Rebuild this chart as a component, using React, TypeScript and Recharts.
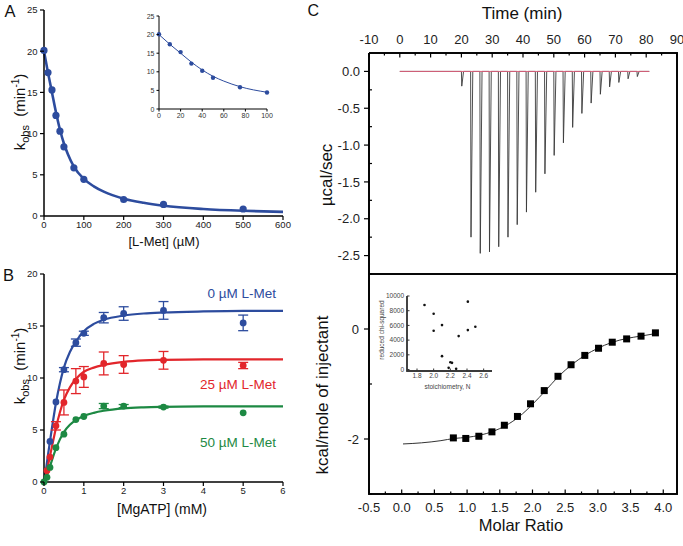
import React from 'react';
import { ComposedChart, Line, Scatter, XAxis, YAxis, ErrorBar } from 'recharts';

const FONT = "'Liberation Sans', Arial, Helvetica, sans-serif";
const BLUE = '#2D4C9E';
const RED = '#E2262B';
const GREEN = '#1D8943';

// ---------- Panel A : kobs vs [L-Met] ----------
const lmetConc = [0, 10, 20, 30, 40, 50, 75, 100, 200, 300, 500];
const kobsLmet = [20.1, 17.4, 15.3, 12.2, 10.3, 8.4, 5.85, 4.45, 2.0, 1.4, 0.85];
const fitLmetX = [0, 10, 20, 30, 40, 50, 60, 75, 100, 125, 150, 200, 250, 300, 400, 500, 600];
const fitLmetY = [20.0, 17.4, 15.0, 12.6, 10.5, 8.8, 7.5, 6.0, 4.5, 3.6, 2.95, 2.1, 1.6, 1.25, 0.85, 0.63, 0.5];
const lmetTicks = [0, 100, 200, 300, 400, 500, 600];
const kobsTicksA = [0, 5, 10, 15, 20, 25];
const insetLmetTicks = [0, 20, 40, 60, 80, 100];

// ---------- Panel B : kobs vs [MgATP] ----------
const atpBlue = [0.15, 0.3, 0.5, 0.8, 1, 1.5, 2, 3, 5];
const kobsBlue = [3.9, 7.7, 10.8, 13.4, 14.3, 15.8, 16.2, 16.5, 15.3];
const errBlue = [0, 0, 0.2, 0.35, 0.2, 0.5, 0.65, 0.85, 0.75];
const atpRed = [0.075, 0.15, 0.3, 0.5, 0.8, 1, 1.5, 2, 3, 5];
const kobsRed = [1.1, 2.4, 5.4, 7.65, 9.7, 10.1, 11.4, 11.3, 11.7, 11.2];
const errRed = [0, 0, 0.4, 1.2, 1.2, 1.0, 1.1, 0.85, 0.85, 0.3];
const atpGreen = [0, 0.075, 0.15, 0.3, 0.5, 0.8, 1, 1.5, 2, 3, 5];
const kobsGreen = [0, 0.45, 1.4, 3.3, 4.6, 6.0, 6.3, 7.3, 7.3, 7.2, 6.65];
const errGreen = [0, 0, 0, 0, 0, 0, 0, 0.25, 0.15, 0.1, 0];
const fitAtpX = [0, 0.05, 0.1, 0.15, 0.2, 0.3, 0.4, 0.5, 0.65, 0.8, 1, 1.25, 1.5, 2, 2.5, 3, 4, 5, 6];
const fitBlueY = [0, 1.2, 2.6, 3.9, 5.2, 7.6, 9.5, 11.0, 12.5, 13.5, 14.5, 15.2, 15.6, 16.0, 16.2, 16.3, 16.4, 16.45, 16.45];
const fitRedY = [0, 0.7, 1.6, 2.5, 3.4, 5.2, 6.7, 7.9, 9.1, 9.9, 10.6, 11.0, 11.25, 11.55, 11.7, 11.75, 11.8, 11.8, 11.8];
const fitGreenY = [0, 0.4, 0.9, 1.5, 2.1, 3.2, 4.1, 4.8, 5.5, 5.95, 6.35, 6.65, 6.85, 7.08, 7.18, 7.23, 7.27, 7.28, 7.28];
const atpTicks = [0, 1, 2, 3, 4, 5, 6];
const kobsTicksB = [0, 5, 10, 15, 20];

// ---------- Panel C (top) : ITC raw heats ----------
const injTimes = [20, 23, 26, 29, 32, 35, 38, 41, 44, 47, 50, 53, 56, 59, 62, 65, 68, 71, 74, 77];
const injPeaks = [-0.2, -2.25, -2.47, -2.45, -2.38, -2.25, -2.08, -1.91, -1.64, -1.39, -1.14, -0.97, -0.76, -0.57, -0.43, -0.31, -0.21, -0.15, -0.1, -0.07];
const runStart = 0;
const runEnd = 81;
const timeDomain: [number, number] = [-10, 90];
const powerDomain: [number, number] = [-2.75, 0.25];
const timeTicks = [-10, -5, 0, 5, 10, 15, 20, 25, 30, 35, 40, 45, 50, 55, 60, 65, 70, 75, 80, 85, 90];
const powerTicks = [0, -0.25, -0.5, -0.75, -1, -1.25, -1.5, -1.75, -2, -2.25, -2.5];

// ---------- Panel C (bottom) : integrated heats ----------
const molarRatio = [0.79, 0.98, 1.18, 1.38, 1.57, 1.77, 1.97, 2.18, 2.39, 2.59, 2.8, 3.01, 3.22, 3.44, 3.66, 3.88];
const heatPerMol = [-1.98, -1.99, -1.95, -1.87, -1.75, -1.59, -1.36, -1.12, -0.86, -0.65, -0.48, -0.35, -0.24, -0.18, -0.13, -0.07];
const fitRatioX = [0.02, 0.3, 0.6, 0.8, 1.0, 1.2, 1.4, 1.6, 1.8, 2.0, 2.2, 2.4, 2.6, 2.8, 3.0, 3.2, 3.45, 3.65, 3.9];
const fitHeatY = [-2.09, -2.07, -2.03, -1.99, -1.97, -1.93, -1.86, -1.75, -1.59, -1.37, -1.12, -0.86, -0.65, -0.48, -0.35, -0.25, -0.17, -0.13, -0.08];
const ratioDomain: [number, number] = [-0.5, 4.21];
const heatDomain: [number, number] = [-3, 1];
const ratioTicks = [-0.5, -0.25, 0, 0.25, 0.5, 0.75, 1, 1.25, 1.5, 1.75, 2, 2.25, 2.5, 2.75, 3, 3.25, 3.5, 3.75, 4];
const heatTicks = [1, 0, -1, -2, -3];

// ---------- Inset C : chi-squared vs N ----------
const stoichN = [1.89, 2.0, 2.0, 2.1, 2.1, 2.18, 2.2, 2.22, 2.27, 2.3, 2.41, 2.41, 2.5];
const chiSq = [8770, 7590, 5270, 6045, 1820, 230, 1000, 910, 90, 4545, 9230, 5360, 5820];
const stoichDomain: [number, number] = [1.68, 2.7];
const chiDomain: [number, number] = [-200, 10000];
const stoichTicks = [1.8, 2.0, 2.2, 2.4, 2.6];
const chiTicks = [0, 2000, 4000, 6000, 8000, 10000];

// ---------- helpers ----------
const zip = (xs: number[], ys: number[], es?: number[]) =>
  xs.map((x, i) => ({ x, y: ys[i], err: es ? es[i] : 0 }));

const ptsA = zip(lmetConc, kobsLmet);
const fitA = zip(fitLmetX, fitLmetY);
const ptsInsetA = ptsA.filter((d) => d.x <= 100);
const fitInsetA = fitA.filter((d) => d.x <= 100);
const ptsBlue = zip(atpBlue, kobsBlue, errBlue);
const ptsRed = zip(atpRed, kobsRed, errRed);
const ptsGreen = zip(atpGreen, kobsGreen, errGreen);
const fitBlue = zip(fitAtpX, fitBlueY);
const fitRed = zip(fitAtpX, fitRedY);
const fitGreen = zip(fitAtpX, fitGreenY);

const trace: { x: number; y: number }[] = [{ x: runStart, y: 0 }];
injTimes.forEach((t, i) => {
  trace.push({ x: t, y: 0 });
  trace.push({ x: t + 0.12, y: injPeaks[i] });
  trace.push({ x: t + 0.7, y: 0 });
});
trace.push({ x: runEnd, y: 0 });
const baseline = [{ x: runStart, y: 0 }, { x: runEnd, y: 0 }];

const ptsC = zip(molarRatio, heatPerMol);
const fitC = zip(fitRatioX, fitHeatY);
const ptsChi = zip(stoichN, chiSq);

// frame outlines follow the axis domains
const box = (xd: [number, number], yd: [number, number]) => [
  { x: xd[0], y: yd[1] }, { x: xd[1], y: yd[1] }, { x: xd[1], y: yd[0] }, { x: xd[0], y: yd[0] }, { x: xd[0], y: yd[1] },
];
const frameTop = box(timeDomain, powerDomain);
const frameBottom = box(ratioDomain, heatDomain);
const frameInsetC = [
  { x: stoichDomain[0], y: chiTicks[chiTicks.length - 1] }, { x: stoichDomain[0], y: chiDomain[0] }, { x: stoichDomain[1], y: chiDomain[0] },
];

type Box = { left: number; top: number; w: number; h: number };
const mg = (bx: Box, l: number, t: number, r: number, b: number, o: { yl?: number; yr?: number; xt?: number; xb?: number } = {}) => ({
  left: l - bx.left - (o.yl ?? 0),
  top: t - bx.top - (o.xt ?? 0),
  right: bx.left + bx.w - r - (o.yr ?? 0),
  bottom: bx.top + bx.h - b - (o.xb ?? 0),
});
const pos = (bx: Box): React.CSSProperties => ({ position: 'absolute', left: bx.left, top: bx.top, width: bx.w, height: bx.h });

type TickCfg = {
  side: 'top' | 'bottom' | 'left' | 'right';
  len: (v: number) => number;
  label?: (v: number) => string | null;
  fs?: number;
  gap?: number;
  color?: string;
  textColor?: string;
  sw?: number;
};

const mkTick = (c: TickCfg) => (p: any) => {
  const x = Number(p.x);
  const y = Number(p.y);
  const v = Number(p.payload.value);
  const L = c.len(v);
  const lab = c.label ? c.label(v) : null;
  const fs = c.fs ?? 10;
  const gap = c.gap ?? 0;
  let x2 = x, y2 = y, tx = x, ty = y;
  let anchor: 'start' | 'middle' | 'end' = 'middle';
  if (c.side === 'top') { y2 = y - L; ty = y - gap; }
  else if (c.side === 'bottom') { y2 = y + L; ty = y + gap; }
  else if (c.side === 'left') { x2 = x - L; tx = x - gap; ty = y + fs * 0.36; anchor = 'end'; }
  else { x2 = x + L; tx = x + gap; ty = y + fs * 0.36; anchor = 'start'; }
  return (
    <g>
      {L !== 0 && <path d={`M${x},${y}L${x2},${y2}`} stroke={c.color ?? '#000'} strokeWidth={c.sw ?? 1.2} fill="none" />}
      {lab != null && (
        <text x={tx} y={ty} textAnchor={anchor} fontSize={fs} fill={c.textColor ?? '#222'} fontFamily={FONT}>
          {lab}
        </text>
      )}
    </g>
  );
};

const dot = (r: number, color: string) => (p: any) => <circle cx={p.cx} cy={p.cy} r={r} fill={color} />;
const square = (s: number, color: string) => (p: any) => (
  <rect x={p.cx - s / 2} y={p.cy - s / 2} width={s} height={s} fill={color} />
);

const axisA = { stroke: '#000', strokeWidth: 1.5 };
const frame = { stroke: '#000', strokeWidth: 1.2 };
const noTick = { tickSize: 0, tickMargin: 0, tickLine: false, interval: 0 as const };
const isHalf = (v: number) => Math.abs(v * 2 - Math.round(v * 2)) < 1e-6;
const noAnim = { isAnimationActive: false, dot: false, activeDot: false } as const;

const KobsLabel = ({ x, y }: { x: number; y: number }) => (
  <text transform={`rotate(-90 ${x} ${y})`} x={x} y={y} fontSize={15} textAnchor="middle" fill="#111">
    k<tspan fontSize={11} dy={4}>obs</tspan>
    <tspan dy={-4}>{'\u00a0\u00a0(min'}</tspan>
    <tspan fontSize={10} dy={-6}>-1</tspan>
    <tspan dy={6}>)</tspan>
  </text>
);

const BX_A: Box = { left: 0, top: 0, w: 292, h: 236 };
const BX_IA: Box = { left: 138, top: 4, w: 138, h: 120 };
const BX_B: Box = { left: 0, top: 262, w: 292, h: 240 };
const BX_CT: Box = { left: 322, top: 24, w: 361, h: 252 };
const BX_CB: Box = { left: 322, top: 272, w: 361, h: 248 };
const BX_IC: Box = { left: 380, top: 288, w: 120, h: 94 };

export default function App() {
  return (
    <div style={{ position: 'absolute', left: 0, top: 0, width: 683, height: 546, background: '#fff', fontFamily: FONT }}>
      {/* Panel A */}
      <div style={pos(BX_A)}>
        <ComposedChart width={BX_A.w} height={BX_A.h} margin={mg(BX_A, 44, 10, 283, 216, { yl: 40, xb: 20 })}>
          <XAxis dataKey="x" type="number" domain={[0, 600]} ticks={lmetTicks} height={20} axisLine={axisA} {...noTick}
            tick={mkTick({ side: 'bottom', len: () => 4, label: (v) => String(v), fs: 9.5, gap: 11.5 })} />
          <YAxis dataKey="y" type="number" domain={[0, 25]} ticks={kobsTicksA} width={40} axisLine={axisA} {...noTick}
            tick={mkTick({ side: 'left', len: () => 4, label: (v) => String(v), fs: 9.5, gap: 6.5 })} />
          <Line data={fitA} dataKey="y" type="monotone" stroke={BLUE} strokeWidth={2.6} {...noAnim} />
          <Scatter data={ptsA} dataKey="y" fill={BLUE} shape={dot(3.6, BLUE)} isAnimationActive={false} />
        </ComposedChart>
      </div>

      {/* Inset A */}
      <div style={pos(BX_IA)}>
        <ComposedChart width={BX_IA.w} height={BX_IA.h} margin={mg(BX_IA, 159, 16, 267, 109, { yl: 14, xb: 12 })}>
          <XAxis dataKey="x" type="number" domain={[0, 100]} ticks={insetLmetTicks} height={12} axisLine={{ stroke: '#000', strokeWidth: 1 }} {...noTick}
            tick={mkTick({ side: 'bottom', len: () => 2.5, label: (v) => String(v), fs: 7, gap: 8.5, textColor: '#333', sw: 1 })} />
          <YAxis dataKey="y" type="number" domain={[0, 25]} ticks={kobsTicksA} width={14} axisLine={{ stroke: '#000', strokeWidth: 1 }} {...noTick}
            tick={mkTick({ side: 'left', len: () => 2.5, label: (v) => String(v), fs: 7, gap: 4.5, textColor: '#333', sw: 1 })} />
          <Line data={fitInsetA} dataKey="y" type="monotone" stroke={BLUE} strokeWidth={1} {...noAnim} />
          <Scatter data={ptsInsetA} dataKey="y" fill={BLUE} shape={dot(2.2, BLUE)} isAnimationActive={false} />
        </ComposedChart>
      </div>

      {/* Panel B */}
      <div style={pos(BX_B)}>
        <ComposedChart width={BX_B.w} height={BX_B.h} margin={mg(BX_B, 44, 274, 283, 482, { yl: 40, xb: 20 })}>
          <XAxis dataKey="x" type="number" domain={[0, 6]} ticks={atpTicks} height={20} axisLine={axisA} {...noTick}
            tick={mkTick({ side: 'bottom', len: () => 4, label: (v) => String(v), fs: 9.5, gap: 11.5 })} />
          <YAxis dataKey="y" type="number" domain={[0, 20]} ticks={kobsTicksB} width={40} axisLine={axisA} {...noTick}
            tick={mkTick({ side: 'left', len: () => 4, label: (v) => String(v), fs: 9.5, gap: 6.5 })} />
          <Line data={fitBlue} dataKey="y" type="monotone" stroke={BLUE} strokeWidth={2.2} {...noAnim} />
          <Line data={fitRed} dataKey="y" type="monotone" stroke={RED} strokeWidth={2.2} {...noAnim} />
          <Line data={fitGreen} dataKey="y" type="monotone" stroke={GREEN} strokeWidth={2.2} {...noAnim} />
          <Scatter data={ptsBlue} dataKey="y" fill={BLUE} shape={dot(3.4, BLUE)} isAnimationActive={false}>
            <ErrorBar dataKey="err" direction="y" width={5} stroke={BLUE} strokeWidth={1.3} />
          </Scatter>
          <Scatter data={ptsRed} dataKey="y" fill={RED} shape={dot(3.4, RED)} isAnimationActive={false}>
            <ErrorBar dataKey="err" direction="y" width={5} stroke={RED} strokeWidth={1.3} />
          </Scatter>
          <Scatter data={ptsGreen} dataKey="y" fill={GREEN} shape={dot(3.4, GREEN)} isAnimationActive={false}>
            <ErrorBar dataKey="err" direction="y" width={5} stroke={GREEN} strokeWidth={1.3} />
          </Scatter>
        </ComposedChart>
      </div>

      {/* Panel C top */}
      <div style={pos(BX_CT)}>
        <ComposedChart width={BX_CT.w} height={BX_CT.h} margin={mg(BX_CT, 369, 53, 677, 274, { yl: 40, xt: 20, xb: 1, yr: 1 })}>
          <XAxis xAxisId="t" orientation="top" dataKey="x" type="number" domain={timeDomain} ticks={timeTicks} height={20} axisLine={frame} {...noTick}
            tick={mkTick({ side: 'top', len: (v) => (v % 10 === 0 ? -4.5 : -2.5), label: (v) => (v % 10 === 0 ? String(v) : null), fs: 13, gap: 9 })} />
          <XAxis xAxisId="b" orientation="bottom" dataKey="x" type="number" domain={timeDomain} ticks={timeTicks} height={1} axisLine={frame} {...noTick}
            tick={mkTick({ side: 'bottom', len: () => 0 })} />
          <YAxis yAxisId="l" dataKey="y" type="number" domain={powerDomain} ticks={powerTicks} width={40} axisLine={frame} {...noTick}
            tick={mkTick({ side: 'left', len: (v) => (isHalf(v) ? 5 : -3), label: (v) => (isHalf(v) ? v.toFixed(1) : null), fs: 13, gap: 9 })} />
          <YAxis yAxisId="r" orientation="right" type="number" domain={powerDomain} ticks={powerTicks} width={1} axisLine={frame} {...noTick}
            tick={mkTick({ side: 'right', len: (v) => (isHalf(v) ? -5 : -3) })} />
          <Line xAxisId="t" yAxisId="l" data={frameTop} dataKey="y" type="linear" stroke="#111" strokeWidth={2} {...noAnim} />
          <Line xAxisId="t" yAxisId="l" data={trace} dataKey="y" type="linear" stroke="#3a3a3a" strokeWidth={0.9} {...noAnim} />
          <Line xAxisId="t" yAxisId="l" data={baseline} dataKey="y" type="linear" stroke="#d9607a" strokeWidth={1} {...noAnim} />
        </ComposedChart>
      </div>

      {/* Panel C bottom */}
      <div style={pos(BX_CB)}>
        <ComposedChart width={BX_CB.w} height={BX_CB.h} margin={mg(BX_CB, 369, 274, 677, 494, { yl: 40, xb: 20, xt: 1, yr: 1 })}>
          <XAxis xAxisId="b" orientation="bottom" dataKey="x" type="number" domain={ratioDomain} ticks={ratioTicks} height={20} axisLine={frame} {...noTick}
            tick={mkTick({ side: 'bottom', len: (v) => (isHalf(v) ? -4.5 : -2.5), label: (v) => (isHalf(v) ? v.toFixed(1) : null), fs: 13, gap: 18 })} />
          <XAxis xAxisId="t" orientation="top" dataKey="x" type="number" domain={ratioDomain} ticks={ratioTicks} height={1} axisLine={frame} {...noTick}
            tick={mkTick({ side: 'top', len: (v) => (isHalf(v) ? -4.5 : -2.5) })} />
          <YAxis yAxisId="l" dataKey="y" type="number" domain={heatDomain} ticks={heatTicks} width={40} axisLine={frame} {...noTick}
            tick={mkTick({ side: 'left', len: (v) => (v % 2 === 0 ? 5 : -3), label: (v) => (v % 2 === 0 ? String(v) : null), fs: 13, gap: 10 })} />
          <YAxis yAxisId="r" orientation="right" type="number" domain={heatDomain} ticks={heatTicks} width={1} axisLine={frame} {...noTick}
            tick={mkTick({ side: 'right', len: (v) => (v % 2 === 0 ? -5 : -3) })} />
          <Line xAxisId="b" yAxisId="l" data={frameBottom} dataKey="y" type="linear" stroke="#111" strokeWidth={2} {...noAnim} />
          <Line xAxisId="b" yAxisId="l" data={fitC} dataKey="y" type="monotone" stroke="#333" strokeWidth={1} {...noAnim} />
          <Scatter xAxisId="b" yAxisId="l" data={ptsC} dataKey="y" fill="#000" shape={square(7, '#000')} isAnimationActive={false} />
        </ComposedChart>
      </div>

      {/* Inset C */}
      <div style={pos(BX_IC)}>
        <ComposedChart width={BX_IC.w} height={BX_IC.h} margin={mg(BX_IC, 407, 296, 492, 371, { yl: 20, xb: 12 })}>
          <XAxis dataKey="x" type="number" domain={stoichDomain} ticks={stoichTicks} height={12} axisLine={{ stroke: '#333', strokeWidth: 1 }} {...noTick}
            tick={mkTick({ side: 'bottom', len: () => -2.5, label: (v) => v.toFixed(1), fs: 6.5, gap: 7, color: '#333', textColor: '#444', sw: 1 })} />
          <YAxis dataKey="y" type="number" domain={chiDomain} ticks={chiTicks} width={20} axisLine={{ stroke: '#333', strokeWidth: 1 }} {...noTick}
            tick={mkTick({ side: 'left', len: () => -2.5, label: (v) => String(v), fs: 6.5, gap: 3, color: '#333', textColor: '#444', sw: 1 })} />
          <Line data={frameInsetC} dataKey="y" type="linear" stroke="#444" strokeWidth={1.8} {...noAnim} />
          <Scatter data={ptsChi} dataKey="y" fill="#000" shape={dot(1.3, '#111')} isAnimationActive={false} />
        </ComposedChart>
      </div>

      {/* Text overlay */}
      <svg width={683} height={546} style={{ position: 'absolute', left: 0, top: 0, pointerEvents: 'none' }} fontFamily={FONT}>
        <text x={4.5} y={17} fontSize={16.5} fill="#111">A</text>
        <text x={3} y={280.5} fontSize={16.5} fill="#111">B</text>
        <text x={307.5} y={15.5} fontSize={16} fill="#111">C</text>
        <text x={164} y={246} fontSize={13} textAnchor="middle" fill="#111">[L-Met] (µM)</text>
        <text x={162} y={514} fontSize={14} textAnchor="middle" fill="#111">[MgATP] (mM)</text>
        <KobsLabel x={25} y={112} />
        <KobsLabel x={25} y={366} />
        <text x={276} y={298} fontSize={13.5} fill={BLUE} textAnchor="end">0 µM L-Met</text>
        <text x={276} y={389} fontSize={13.5} fill={RED} textAnchor="end">25 µM L-Met</text>
        <text x={276} y={447} fontSize={13.5} fill={GREEN} textAnchor="end">50 µM L-Met</text>
        <text x={522} y={19} fontSize={17} textAnchor="middle" fill="#111">Time (min)</text>
        <text x={521} y={531} fontSize={16.5} textAnchor="middle" fill="#111">Molar Ratio</text>
        <text transform="rotate(-90 332 175)" x={332} y={175} fontSize={17} textAnchor="middle" fill="#111">µcal/sec</text>
        <text transform="rotate(-90 328 395)" x={328} y={395} fontSize={17} textAnchor="middle" fill="#111">kcal/mole of injectant</text>
        <text transform="rotate(-90 384 330)" x={384} y={330} fontSize={6.5} textAnchor="middle" fill="#444">reduced chi-squared</text>
        <text x={447.5} y={389} fontSize={6.5} textAnchor="middle" fill="#444">stoichiometry, N</text>
      </svg>
    </div>
  );
}
